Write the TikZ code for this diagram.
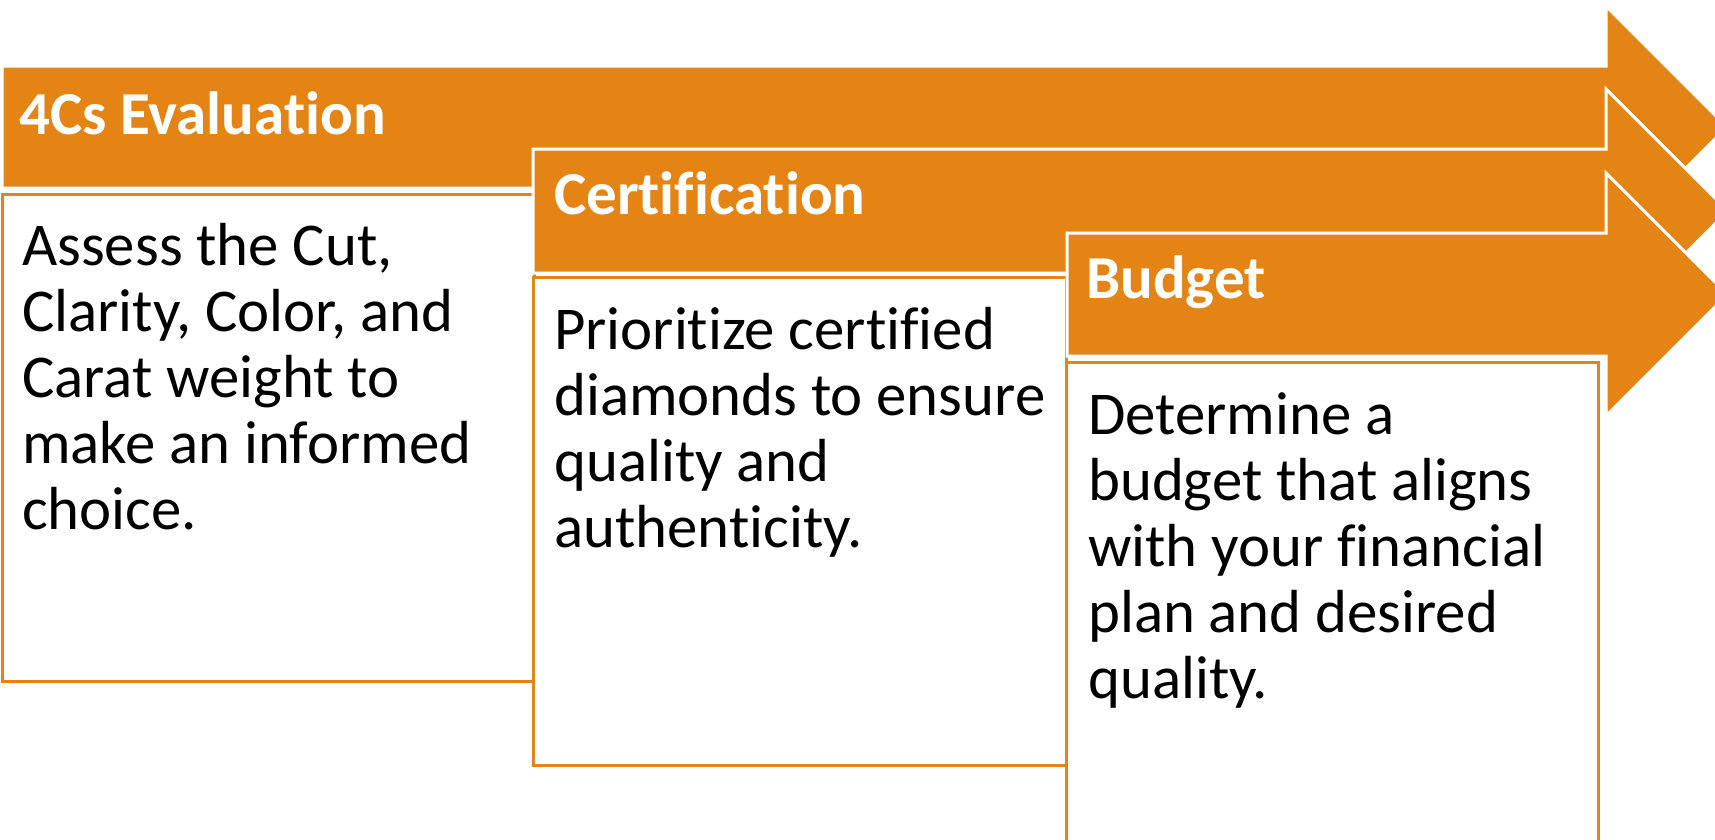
\documentclass[tikz,border=0pt]{standalone}
\usepackage{fontspec}
\setmainfont{Carlito}[Ligatures=NoCommon]
\definecolor{arrowor}{RGB}{228,132,20}
\tikzset{
  arrowshape/.style={fill=arrowor, draw=white, line width=3pt, line join=miter},
  textbox/.style={fill=white, draw=arrowor, line width=3pt},
  headtext/.style={anchor=base west, inner sep=0pt, text=white, font=\fontsize{61}{66}\selectfont\bfseries},
  bodytext/.style={anchor=base west, inner sep=0pt, text=black, align=left, font=\fontsize{60.8}{66}\selectfont},
}
\begin{document}
\begin{tikzpicture}[x=1pt,y=-1pt]
\useasboundingbox (0,0) rectangle (1715,839);
\clip (0,0) rectangle (1715,839);
% arrow 1
\draw[arrowshape] (2,66) -- (1606,66) -- (1606,6) -- (1727,127) -- (1606,248) -- (1606,188) -- (2,188) -- cycle;
\draw[textbox] (2,194) rectangle (534,681);
\node[headtext] (h1) at (19,134) {4Cs Evaluation};
% base anchor = baseline of the last line
\node[bodytext] (b1) at (22,529) {Assess the Cut,\\Clarity, Color, and\\Carat weight to\\make an informed\\choice.};
% arrow 2
\draw[arrowshape] (533,149) -- (1606,149) -- (1606,89) -- (1728,211) -- (1606,333) -- (1606,273) -- (533,273) -- cycle;
\draw[textbox] (533,277) rectangle (1066,765);
\node[headtext] (h2) at (554,214) {Certification};
\node[bodytext] (b2) at (554,547) {Prioritize certified\\diamonds to ensure\\quality and\\authenticity.};
% arrow 3
\draw[arrowshape] (1067,233) -- (1606,233) -- (1606,173) -- (1727.5,294.5) -- (1606,416) -- (1606,356) -- (1067,356) -- cycle;
\draw[textbox] (1066,362) rectangle (1598,850);
\node[headtext] (h3) at (1086,298) {Budget};
\node[bodytext] (b3) at (1088,698) {Determine a\\budget that aligns\\with your financial\\plan and desired\\quality.};
\end{tikzpicture}
\end{document}
